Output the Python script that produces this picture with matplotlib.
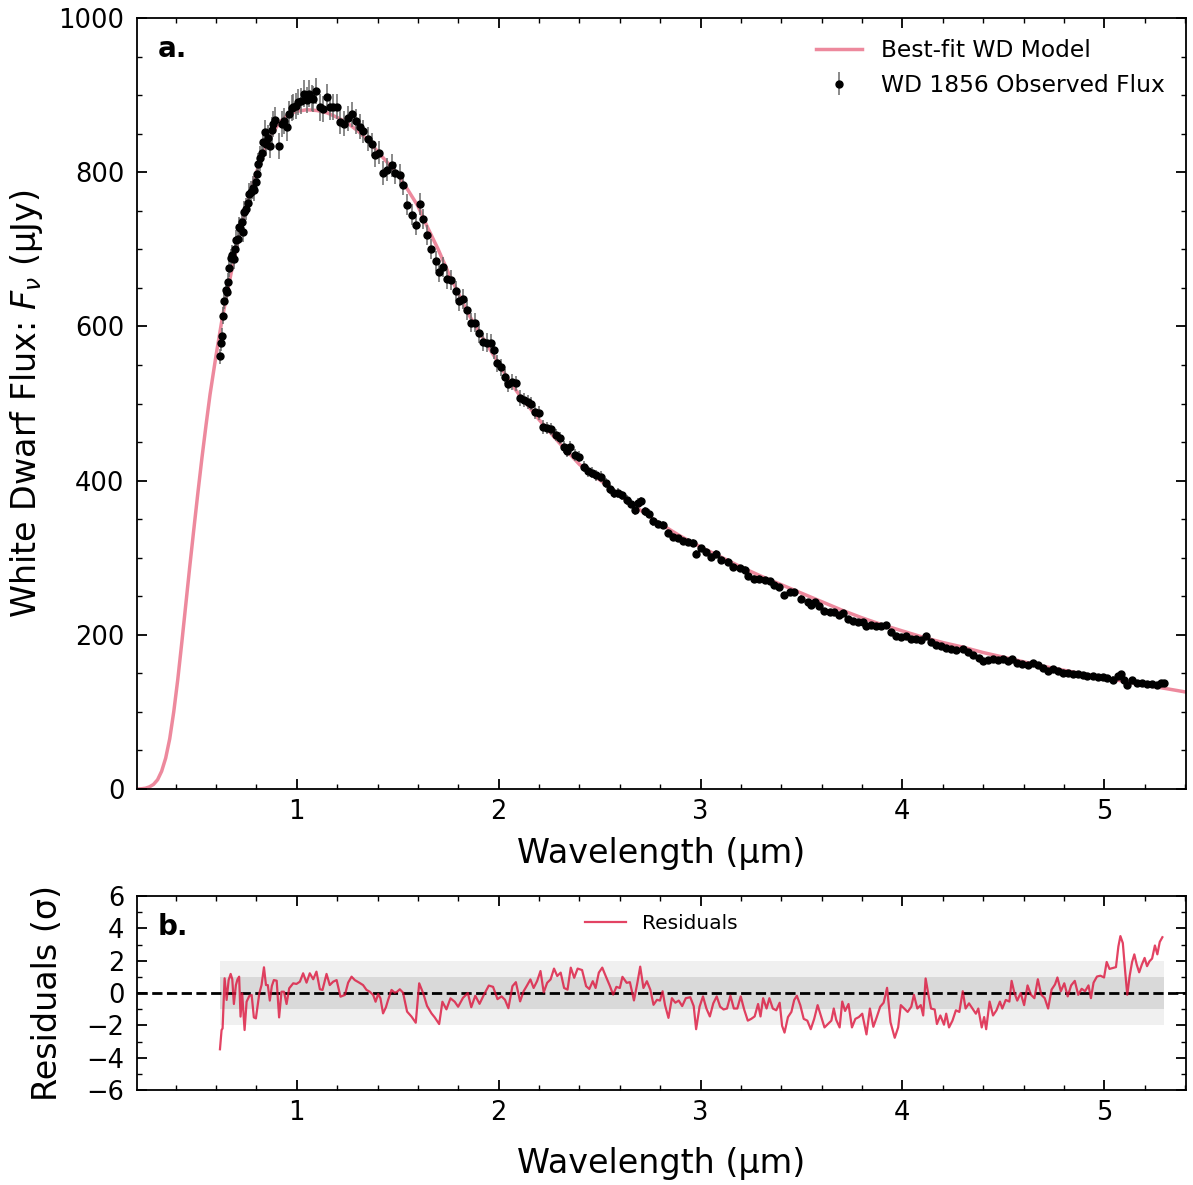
import matplotlib
matplotlib.use("Agg")
import matplotlib.pyplot as plt
from matplotlib.ticker import MultipleLocator
from matplotlib.lines import Line2D

# ---------------- data ----------------
model_wl = [0.210, 0.230, 0.250, 0.270, 0.290, 0.310, 0.330, 0.350, 0.370, 0.390,
            0.410, 0.430, 0.450, 0.470, 0.490, 0.510, 0.530, 0.550, 0.570, 0.600,
            0.630, 0.660, 0.690, 0.720, 0.750, 0.780, 0.810, 0.840, 0.870, 0.900,
            0.930, 0.960, 1.000, 1.050, 1.100, 1.150, 1.200, 1.250, 1.300, 1.350,
            1.400, 1.450, 1.500, 1.550, 1.600, 1.650, 1.700, 1.750, 1.800, 1.850,
            1.900, 1.950, 2.000, 2.050, 2.100, 2.200, 2.300, 2.400, 2.500, 2.600,
            2.700, 2.800, 2.900, 3.000, 3.100, 3.200, 3.300, 3.400, 3.500, 3.600,
            3.700, 3.800, 3.900, 4.000, 4.100, 4.200, 4.300, 4.400, 4.500, 4.600,
            4.700, 4.800, 4.900, 5.000, 5.100, 5.200, 5.300, 5.410]
model_flux = [0.0, 0.3, 1.0, 2.8, 6, 12, 23, 40, 65, 100,
              142, 190, 240, 290, 338, 385, 430, 472, 512, 563,
              610, 651, 689, 724, 757, 784, 808, 829, 846, 859,
              869, 875, 879, 881, 880, 877, 871, 864, 854, 842,
              827, 812, 797, 777, 756, 727, 700, 670, 643, 616,
              594, 573, 552, 530, 512, 479, 449, 421, 401, 381,
              362, 344, 328, 314, 301, 288, 276, 265, 254, 243,
              232, 222, 213, 205, 197, 190, 184, 177, 171, 165,
              159, 154, 149, 144.5, 139.5, 135, 130.5, 125.5]

obs_wl = [0.619, 0.624, 0.627, 0.635, 0.640, 0.647, 0.653, 0.660, 0.665, 0.672,
          0.677, 0.687, 0.693, 0.700, 0.706, 0.712, 0.718, 0.726, 0.734, 0.739,
          0.746, 0.756, 0.762, 0.772, 0.781, 0.789, 0.796, 0.803, 0.809, 0.817,
          0.825, 0.833, 0.842, 0.847, 0.855, 0.866, 0.875, 0.883, 0.894, 0.911,
          0.924, 0.937, 0.949, 0.960, 0.974, 0.982, 0.994, 1.007, 1.020, 1.033,
          1.048, 1.059, 1.073, 1.081, 1.093, 1.114, 1.130, 1.147, 1.163, 1.180,
          1.197, 1.213, 1.234, 1.254, 1.271, 1.291, 1.312, 1.328, 1.350, 1.370,
          1.386, 1.406, 1.427, 1.449, 1.469, 1.488, 1.510, 1.526, 1.548, 1.568,
          1.588, 1.609, 1.627, 1.647, 1.667, 1.687, 1.706, 1.726, 1.746, 1.766,
          1.786, 1.805, 1.825, 1.845, 1.865, 1.885, 1.904, 1.924, 1.944, 1.960,
          1.975, 1.992, 2.013, 2.030, 2.046, 2.068, 2.084, 2.104, 2.124, 2.145,
          2.162, 2.178, 2.200, 2.219, 2.239, 2.261, 2.282, 2.302, 2.322, 2.338,
          2.355, 2.376, 2.398, 2.421, 2.442, 2.464, 2.484, 2.508, 2.530, 2.550,
          2.569, 2.591, 2.612, 2.635, 2.657, 2.673, 2.690, 2.706, 2.723, 2.744,
          2.764, 2.789, 2.813, 2.838, 2.863, 2.888, 2.912, 2.937, 2.962, 2.979,
          3.003, 3.028, 3.053, 3.078, 3.102, 3.135, 3.160, 3.193, 3.218, 3.234,
          3.267, 3.292, 3.317, 3.342, 3.366, 3.391, 3.411, 3.441, 3.465, 3.500,
          3.530, 3.548, 3.569, 3.589, 3.614, 3.639, 3.663, 3.685, 3.708, 3.729,
          3.754, 3.779, 3.803, 3.820, 3.845, 3.870, 3.894, 3.919, 3.944, 3.969,
          3.994, 4.018, 4.043, 4.068, 4.093, 4.117, 4.142, 4.167, 4.191, 4.216,
          4.241, 4.266, 4.299, 4.324, 4.348, 4.378, 4.398, 4.423, 4.447, 4.472,
          4.497, 4.521, 4.543, 4.566, 4.593, 4.620, 4.645, 4.670, 4.695, 4.719,
          4.744, 4.769, 4.794, 4.818, 4.843, 4.868, 4.893, 4.917, 4.942, 4.967,
          4.992, 5.016, 5.041, 5.066, 5.082, 5.099, 5.115, 5.137, 5.160, 5.187,
          5.210, 5.236, 5.259, 5.280, 5.294]
obs_flux = [561, 578, 588, 614, 633, 647, 645, 657, 676, 689,
            693, 687, 700, 712, 713, 729, 728, 736, 723, 749,
            752, 760, 772, 774, 780, 777, 787, 798, 810, 818,
            825, 839, 852, 837, 845, 834, 855, 863, 868, 834,
            863, 866, 858, 875, 883, 885, 886, 891, 892, 902,
            894, 902, 896, 895, 905, 884, 882, 898, 885, 885,
            885, 865, 863, 870, 875, 866, 859, 853, 843, 836,
            822, 825, 799, 803, 809, 799, 796, 784, 758, 745,
            732, 759, 739, 718, 700, 685, 670, 677, 662, 660,
            646, 633, 636, 621, 605, 605, 591, 580, 579, 578,
            569, 552, 547, 535, 525, 528, 526, 507, 505, 502,
            500, 489, 488, 470, 468, 467, 459, 455, 444, 439,
            443, 433, 431, 418, 412, 410, 407, 405, 397, 389,
            384, 384, 381, 375, 370, 362, 371, 373, 360, 357,
            347, 344, 342, 332, 327, 325, 322, 321, 319, 305,
            312, 308, 301, 305, 297, 295, 288, 286, 284, 276,
            273, 273, 271, 270, 265, 262, 252, 255, 256, 247,
            242, 239, 242, 237, 231, 230, 229, 226, 228, 221,
            218, 217, 216, 211, 213, 211, 211, 213, 204, 198,
            197, 198, 195, 195, 193, 198, 191, 187, 185, 183,
            181, 180, 181, 178, 174, 170, 166, 167, 168, 167,
            168, 166, 168, 163, 162, 161, 163, 161, 157, 153,
            155, 153, 151, 150, 149, 149, 148, 146, 146, 145,
            145, 144, 142, 146, 149, 141, 135, 141, 138, 137,
            136, 136, 135, 137, 137]
obs_err = [10, 10, 10, 11, 11, 11, 11, 12, 12, 12,
           12, 12, 13, 13, 13, 13, 13, 13, 14, 14,
           14, 14, 14, 15, 15, 15, 15, 15, 15, 16,
           16, 16, 16, 16, 16, 16, 17, 17, 17, 17,
           17, 17, 17, 17, 17, 17, 17, 17, 17, 17,
           17, 17, 17, 17, 17, 17, 17, 17, 17, 17,
           16, 16, 16, 16, 16, 16, 16, 15, 15, 15,
           15, 15, 15, 15, 15, 14, 14, 14, 14, 14,
           14, 14, 13, 13, 13, 13, 13, 13, 13, 13,
           13, 13, 13, 13, 12, 12, 12, 12, 12, 12,
           11, 11, 11, 10, 10, 10, 10, 10, 9, 9,
           9, 9, 9, 9, 8, 8, 8, 8, 8, 8,
           8, 8, 7, 7, 7, 7, 7, 7, 7, 7,
           6, 6, 6, 6, 6, 6, 6, 6, 6, 6,
           6, 5, 5, 5, 5, 5, 5, 5, 5, 5,
           5, 5, 5, 5, 5, 5, 5, 5, 5, 5,
           4, 4, 4, 4, 4, 4, 4, 4, 4, 4,
           4, 4, 4, 4, 4, 4, 4, 4, 4, 4,
           4, 4, 4, 4, 4, 4, 4, 4, 4, 4,
           4, 4, 4, 4, 4, 4, 4, 4, 4, 4,
           4, 4, 4, 4, 4, 4, 4, 4, 4, 4,
           4, 4, 4, 4, 4, 4, 4, 4, 4, 4,
           4, 4, 4, 4, 4, 4, 4, 4, 4, 4,
           4, 4, 4, 4, 4, 4, 4, 4, 4, 4,
           4, 4, 4, 4, 4]

res_wl = [0.619, 0.627, 0.632, 0.642, 0.652, 0.662, 0.672, 0.680, 0.688, 0.698,
          0.706, 0.714, 0.721, 0.729, 0.741, 0.751, 0.764, 0.776, 0.787, 0.797,
          0.814, 0.825, 0.837, 0.847, 0.856, 0.866, 0.876, 0.886, 0.900, 0.912,
          0.924, 0.936, 0.949, 0.962, 0.982, 0.998, 1.015, 1.031, 1.048, 1.064,
          1.081, 1.097, 1.114, 1.127, 1.147, 1.163, 1.180, 1.197, 1.216, 1.238,
          1.254, 1.271, 1.287, 1.309, 1.328, 1.345, 1.361, 1.378, 1.390, 1.403,
          1.414, 1.427, 1.441, 1.452, 1.469, 1.485, 1.497, 1.510, 1.526, 1.546,
          1.568, 1.589, 1.606, 1.626, 1.645, 1.667, 1.683, 1.705, 1.721, 1.741,
          1.761, 1.782, 1.799, 1.823, 1.847, 1.864, 1.884, 1.905, 1.927, 1.951,
          1.972, 1.994, 2.014, 2.031, 2.048, 2.068, 2.085, 2.106, 2.123, 2.140,
          2.157, 2.173, 2.190, 2.207, 2.223, 2.240, 2.257, 2.274, 2.290, 2.307,
          2.324, 2.341, 2.357, 2.374, 2.391, 2.413, 2.433, 2.449, 2.466, 2.480,
          2.496, 2.513, 2.530, 2.550, 2.567, 2.583, 2.600, 2.613, 2.634, 2.650,
          2.670, 2.687, 2.701, 2.717, 2.734, 2.751, 2.767, 2.784, 2.799, 2.812,
          2.824, 2.841, 2.858, 2.875, 2.892, 2.909, 2.927, 2.949, 2.966, 2.978,
          2.995, 3.012, 3.029, 3.046, 3.063, 3.080, 3.097, 3.114, 3.131, 3.148,
          3.165, 3.182, 3.199, 3.216, 3.234, 3.251, 3.268, 3.285, 3.297, 3.310,
          3.327, 3.341, 3.358, 3.375, 3.392, 3.404, 3.416, 3.433, 3.450, 3.464,
          3.477, 3.494, 3.511, 3.529, 3.546, 3.563, 3.580, 3.597, 3.614, 3.631,
          3.648, 3.660, 3.672, 3.689, 3.702, 3.716, 3.733, 3.750, 3.767, 3.784,
          3.801, 3.822, 3.839, 3.856, 3.873, 3.890, 3.907, 3.924, 3.941, 3.962,
          3.979, 3.992, 4.009, 4.026, 4.044, 4.057, 4.074, 4.091, 4.103, 4.115,
          4.129, 4.142, 4.160, 4.171, 4.188, 4.206, 4.217, 4.231, 4.248, 4.265,
          4.282, 4.299, 4.313, 4.330, 4.347, 4.364, 4.376, 4.393, 4.405, 4.415,
          4.432, 4.449, 4.466, 4.483, 4.495, 4.512, 4.530, 4.541, 4.555, 4.569,
          4.586, 4.603, 4.620, 4.637, 4.654, 4.671, 4.688, 4.705, 4.722, 4.739,
          4.756, 4.768, 4.785, 4.802, 4.819, 4.836, 4.854, 4.871, 4.888, 4.905,
          4.922, 4.934, 4.947, 4.964, 4.981, 4.999, 5.012, 5.026, 5.041, 5.058,
          5.070, 5.080, 5.092, 5.104, 5.114, 5.126, 5.138, 5.149, 5.161, 5.173,
          5.186, 5.200, 5.212, 5.224, 5.237, 5.251, 5.263, 5.275, 5.288]
res_val = [-3.48, -2.29, -2.19, 0.91, -0.43, 0.80, 1.18, 0.85, -0.68, 0.49,
           0.85, 1.01, -1.46, -0.02, -2.29, -0.54, -0.19, -0.12, -1.51, -1.57,
           -0.02, 0.49, 1.59, 0.49, 0.49, -0.47, 0.43, 0.80, 0.76, -1.51,
           0.08, 0.08, -0.68, 0.29, 0.60, 0.56, 0.70, 1.22, 0.64, 1.22,
           0.85, 1.32, 0.23, 0.19, 1.18, 0.49, 0.70, 0.80, -0.23, -0.12,
           0.64, 1.01, 0.80, 0.64, 0.49, 0.19, 0.08, -0.12, -0.54, -0.06,
           -0.33, -1.26, -0.89, -0.43, 0.19, 0.02, 0.08, 0.23, 0.02, -1.15,
           -1.46, -1.84, 0.60, -0.02, -0.80, -1.26, -1.51, -1.92, -0.54, -1.01,
           -0.33, -0.54, -0.85, -0.30, 0.00, -0.88, -0.17, -0.67, -0.10, 0.46,
           0.38, -0.38, -0.21, -0.42, -0.94, 0.42, 0.67, -0.52, 0.10, 0.46,
           0.84, 0.31, 0.73, 1.36, 0.04, 0.63, 0.84, 1.51, 1.05, 1.26,
           0.31, 0.21, 1.57, 0.94, 1.51, 1.42, 0.42, 0.25, 0.73, 0.31,
           1.26, 1.57, 1.05, 0.46, -0.10, 0.38, 0.31, 1.00, 0.63, 0.67,
           -0.46, 0.63, 1.63, 0.31, 0.73, 0.21, -0.73, -0.42, -0.47, 0.11,
           -0.75, -1.54, -0.32, -0.60, -0.47, -0.81, -0.32, -0.26, -0.81, -2.24,
           -0.85, -0.21, -0.96, -1.45, -0.64, -0.21, -0.85, -1.02, -0.96, -0.17,
           -0.96, -0.96, -0.21, -1.02, -1.71, -1.60, -1.45, -0.68, -1.45, -0.32,
           -0.96, -0.32, -0.96, -1.07, -0.60, -2.03, -2.45, -1.49, -1.17, -0.43,
           -0.17, -0.75, -1.60, -1.71, -2.24, -1.60, -0.75, -1.45, -2.13, -1.92,
           -1.71, -0.96, -1.66, -2.13, -0.53, -1.11, -0.68, -2.13, -1.60, -1.49,
           -1.28, -2.56, -0.96, -2.09, -1.49, -0.85, -0.60, 0.32, -1.81, -2.77,
           -2.13, -0.75, -0.96, -1.17, -0.85, -0.11, -0.96, -0.75, -1.39, 0.90,
           -0.11, -0.96, -1.02, -1.92, -1.39, -1.96, -1.28, -2.13, -1.71, -1.07,
           -1.17, 0.11, -0.96, -0.64, -0.96, -1.28, -0.96, -2.13, -1.49, -2.24,
           -0.53, -1.39, -1.07, -0.53, -0.96, -0.43, -0.53, 0.75, 0.00, -0.47,
           0.00, -0.75, 0.47, -0.11, -0.32, 0.85, -0.11, -0.32, -0.96, 0.21,
           0.53, 0.96, 0.11, 0.60, -0.21, 0.47, 0.75, -0.11, 0.26, 0.11,
           0.47, -0.32, 0.64, 1.02, 1.07, 0.96, 1.92, 1.49, 1.54, 1.60,
           2.88, 3.52, 3.09, 1.28, -0.11, 1.07, 1.92, 2.39, 1.75, 1.28,
           1.75, 2.17, 1.66, 1.96, 2.13, 2.94, 2.39, 3.16, 3.45]

xticks = [1, 2, 3, 4, 5]
flux_ticks = [0, 200, 400, 600, 800, 1000]
res_ticks = [-6, -4, -2, 0, 2, 4, 6]

# ---------------- figure ----------------
W, H = 1193, 1185
fig = plt.figure(figsize=(W / 100, H / 100), dpi=100)
L, R = 137 / W, 1186 / W
ax1 = fig.add_axes([L, 1 - 789 / H, R - L, (789 - 18) / H])
ax2 = fig.add_axes([L, 1 - 1090 / H, R - L, (1090 - 896) / H])

col = "crimson"
ax1.plot(model_wl, model_flux, color=col, alpha=0.5, lw=2.5, zorder=1)
ax1.errorbar(obs_wl, obs_flux, yerr=obs_err, fmt="o", color="black", ms=5,
             ecolor="#6a6a6a", elinewidth=1.1, capsize=0, zorder=2)

h_model = Line2D([], [], color=col, alpha=0.5, lw=2.5)
h_obs = ax1.errorbar([], [], yerr=[], fmt="o", color="black", ms=5,
                     ecolor="#6a6a6a", elinewidth=1.1)
ax1.legend([h_model, h_obs], ["Best-fit WD Model", "WD 1856 Observed Flux"],
           loc="upper right", frameon=False, fontsize=16.8)

ax1.set_xlim(0.208, 5.405)
ax1.set_ylim(0, 1000)
ax1.set_xticks(xticks)
ax1.set_yticks(flux_ticks)
ax1.xaxis.set_minor_locator(MultipleLocator(0.2))
ax1.yaxis.set_minor_locator(MultipleLocator(50))
ax1.set_xlabel("Wavelength (µm)", fontsize=24, labelpad=9)
ax1.set_ylabel(r"White Dwarf Flux: $F_\nu$ (µJy)", fontsize=24)
ax1.text(0.02, 0.978, "a.", transform=ax1.transAxes, fontsize=20,
         fontweight="bold", va="top", ha="left")

# residual panel
x0, x1 = obs_wl[0], obs_wl[-1]
ax2.fill_between([x0, x1], [-2, -2], [2, 2], color="#f0f0f0", lw=0, zorder=0)
ax2.fill_between([x0, x1], [-1, -1], [1, 1], color="#d9d9d9", lw=0, zorder=0.5)
ax2.axhline(0, color="black", ls="--", lw=2, zorder=1)
ax2.plot(res_wl, res_val, color=col, alpha=0.8, lw=1.6, label="Residuals", zorder=2)
ax2.legend(loc="upper center", frameon=False, fontsize=14.5)
ax2.set_xlim(0.208, 5.405)
ax2.set_ylim(-6, 6)
ax2.set_xticks(xticks)
ax2.set_yticks(res_ticks)
ax2.xaxis.set_minor_locator(MultipleLocator(0.2))
ax2.yaxis.set_minor_locator(MultipleLocator(1))
ax2.set_xlabel("Wavelength (µm)", fontsize=24, labelpad=15)
ax2.set_ylabel("Residuals (σ)", fontsize=24)
ax2.text(0.02, 0.91, "b.", transform=ax2.transAxes, fontsize=20,
         fontweight="bold", va="top", ha="left")

for ax in (ax1, ax2):
    ax.tick_params(which="both", direction="in", top=True, right=True,
                   labelsize=18.5)
    ax.tick_params(which="major", length=7, width=1.3)
    ax.tick_params(which="minor", length=3.5, width=1.0)
    ax.tick_params(axis="x", which="major", pad=7)
    ax.tick_params(axis="y", which="major", pad=9)
    for s in ax.spines.values():
        s.set_linewidth(1.3)

ax1.yaxis.set_label_coords(-0.088, 0.5)
ax2.yaxis.set_label_coords(-0.07, 0.5)

fig.savefig("out.png", dpi=100)
